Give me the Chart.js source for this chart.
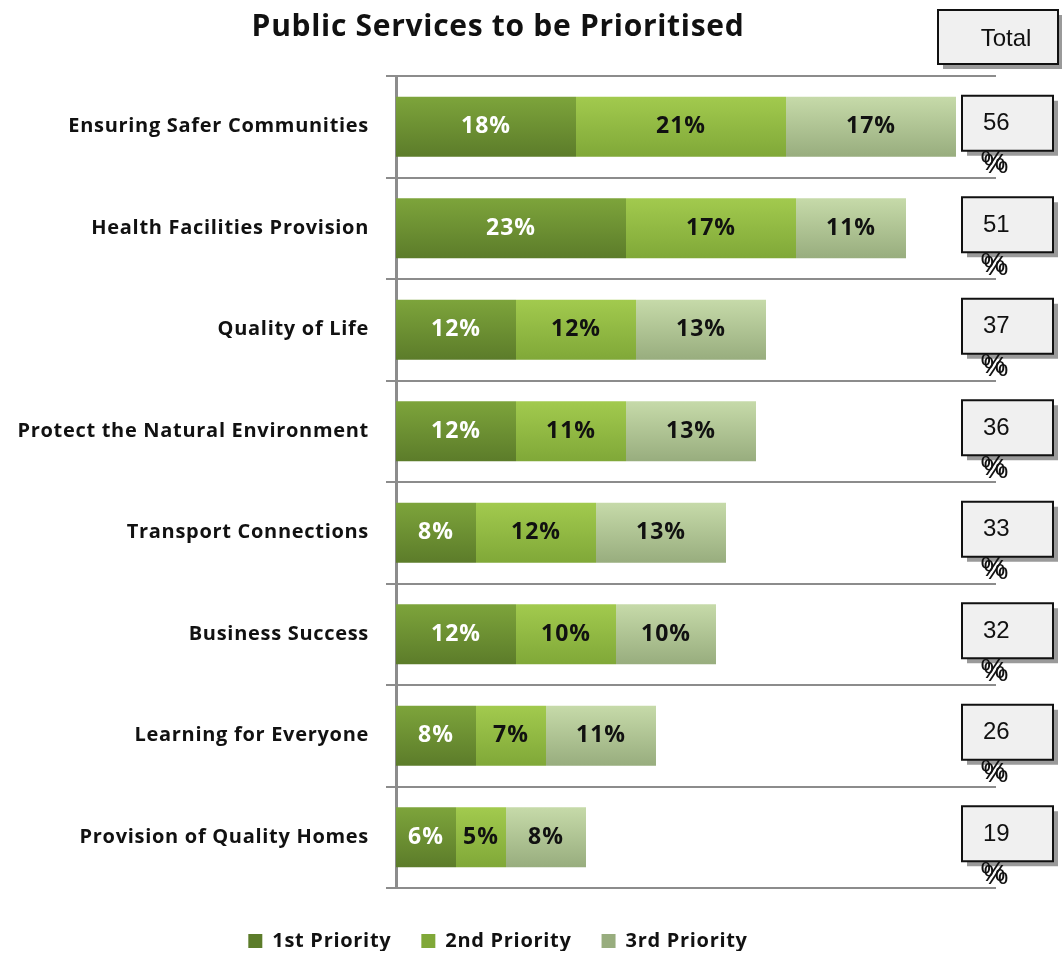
<!DOCTYPE html>
<html>
<head>
<meta charset="utf-8">
<script src="https://cdn.jsdelivr.net/npm/chart.js@4.4.0/dist/chart.umd.min.js"></script>
<style>
  html, body { margin: 0; padding: 0; background: #fff; }
  #wrap { width: 1062px; height: 953px; }
</style>
</head>
<body>
<div id="wrap"><canvas id="priorityChart" width="1062" height="953"></canvas></div>
<script>
const services = [
  'Ensuring Safer Communities',
  'Health Facilities Provision',
  'Quality of Life',
  'Protect the Natural Environment',
  'Transport Connections',
  'Business Success',
  'Learning for Everyone',
  'Provision of Quality Homes'
];
const firstPriority  = [18, 23, 12, 12, 8, 12, 8, 6];
const secondPriority = [21, 17, 12, 11, 12, 10, 7, 5];
const thirdPriority  = [17, 11, 13, 13, 13, 10, 11, 8];
const seriesNames = ['1st Priority', '2nd Priority', '3rd Priority'];

// top / bottom shades for each series
const shades = [
  ['#7da43b', '#5c7c2a'],
  ['#a2ca4e', '#80a838'],
  ['#c6daa9', '#98ad7e']
];

const FONT = '"Open Sans", Lato, sans-serif';
const BOX_FONT = '"Liberation Sans", Arial, sans-serif';
const SPACING = '0.7px';

function barGradient(ctx) {
  const chart = ctx.chart;
  const sIdx = ctx.datasetIndex;
  const y = chart.scales && chart.scales.y;
  if (ctx.type !== 'data' || !y || y.height == null) return shades[sIdx][1];
  const band = y.height / services.length;
  const yc = y.getPixelForValue(ctx.dataIndex);
  const half = band * 0.59 / 2;
  const g = chart.ctx.createLinearGradient(0, yc - half, 0, yc + half);
  g.addColorStop(0, shades[sIdx][0]);
  g.addColorStop(1, shades[sIdx][1]);
  return g;
}

// loose tracking for all chart text
const textSpacing = {
  id: 'textSpacing',
  beforeLayout(chart) { chart.ctx.letterSpacing = SPACING; },
  beforeDraw(chart) { chart.ctx.letterSpacing = SPACING; }
};

// percentage text inside each segment
const segmentLabels = {
  id: 'segmentLabels',
  afterDatasetsDraw(chart) {
    const c = chart.ctx;
    c.save();
    c.letterSpacing = '1px';
    c.font = 'bold 23px ' + FONT;
    c.textAlign = 'center';
    c.textBaseline = 'middle';
    chart.data.datasets.forEach((ds, di) => {
      chart.getDatasetMeta(di).data.forEach((bar, i) => {
        const x = (bar.x + bar.base) / 2;
        c.fillStyle = di === 0 ? '#ffffff' : '#111111';
        c.fillText(ds.data[i] + '%', x, bar.y);
      });
    });
    c.restore();
  }
};

function shadowBox(c, x, y, w, h) {
  c.fillStyle = '#9a9a9a';
  c.fillRect(x + 5, y + 5, w, h);
  c.fillStyle = '#f0f0f0';
  c.fillRect(x, y, w, h);
  c.strokeStyle = '#111';
  c.lineWidth = 2;
  c.strokeRect(x, y, w, h);
}

// "Total" header plus one boxed total per row
const totalBoxes = {
  id: 'totalBoxes',
  afterDraw(chart) {
    const c = chart.ctx;
    const y = chart.scales.y;
    c.save();
    c.letterSpacing = '0px';
    shadowBox(c, 938, 10, 120, 54);
    c.fillStyle = '#111';
    c.font = '24px ' + BOX_FONT;
    c.textAlign = 'center';
    c.textBaseline = 'middle';
    c.fillText('Total', 1006, 39);

    services.forEach((_, i) => {
      const total = firstPriority[i] + secondPriority[i] + thirdPriority[i];
      const yc = y.getPixelForValue(i);
      shadowBox(c, 962, yc - 31, 91, 55);
      c.fillStyle = '#111';
      c.font = '24px ' + BOX_FONT;
      c.textAlign = 'left';
      c.fillText(String(total), 983, yc - 3);
      c.textAlign = 'center';
      c.font = '28px ' + BOX_FONT;
      c.fillText('%', 993, yc + 36);
      c.fillText('%', 996, yc + 39);
    });
    c.restore();
  }
};

const chart = new Chart(document.getElementById('priorityChart').getContext('2d'), {
  type: 'bar',
  data: {
    labels: services,
    datasets: [firstPriority, secondPriority, thirdPriority].map((values, k) => ({
      label: seriesNames[k],
      data: values,
      backgroundColor: barGradient,
      borderWidth: 0,
      categoryPercentage: 1,
      barPercentage: 0.59
    }))
  },
  options: {
    indexAxis: 'y',
    responsive: false,
    animation: false,
    layout: { padding: { left: 0, right: 66, top: 0, bottom: 2 } },
    scales: {
      x: {
        stacked: true,
        min: 0,
        max: 60,
        grid: { display: false },
        border: { display: false },
        ticks: { display: false },
        afterFit(scale) { scale.height = 13; }
      },
      y: {
        stacked: true,
        grid: {
          offset: true,
          color: '#8c8c8c',
          lineWidth: 2,
          tickLength: 10
        },
        border: { color: '#8c8c8c', width: 3 },
        ticks: {
          color: '#111',
          padding: 17,
          font: { family: FONT, size: 20, weight: 'bold' }
        },
        afterFit(scale) { scale.width = 396; }
      }
    },
    plugins: {
      title: {
        display: true,
        text: 'Public Services to be Prioritised',
        color: '#111',
        font: { family: FONT, size: 30, weight: 'bold' },
        padding: { top: 9, bottom: 31 }
      },
      legend: {
        position: 'bottom',
        maxHeight: 50,
        labels: {
          color: '#111',
          boxWidth: 14,
          boxHeight: 14,
          padding: 30,
          font: { family: FONT, size: 20, weight: 'bold' },
          generateLabels(ch) {
            return ch.data.datasets.map((ds, k) => ({
              text: ds.label,
              fillStyle: shades[k][1],
              strokeStyle: shades[k][1],
              lineWidth: 0,
              datasetIndex: k,
              fontColor: '#111'
            }));
          }
        }
      },
      tooltip: { enabled: false }
    }
  },
  plugins: [textSpacing, segmentLabels, totalBoxes]
});
</script>
</body>
</html>
